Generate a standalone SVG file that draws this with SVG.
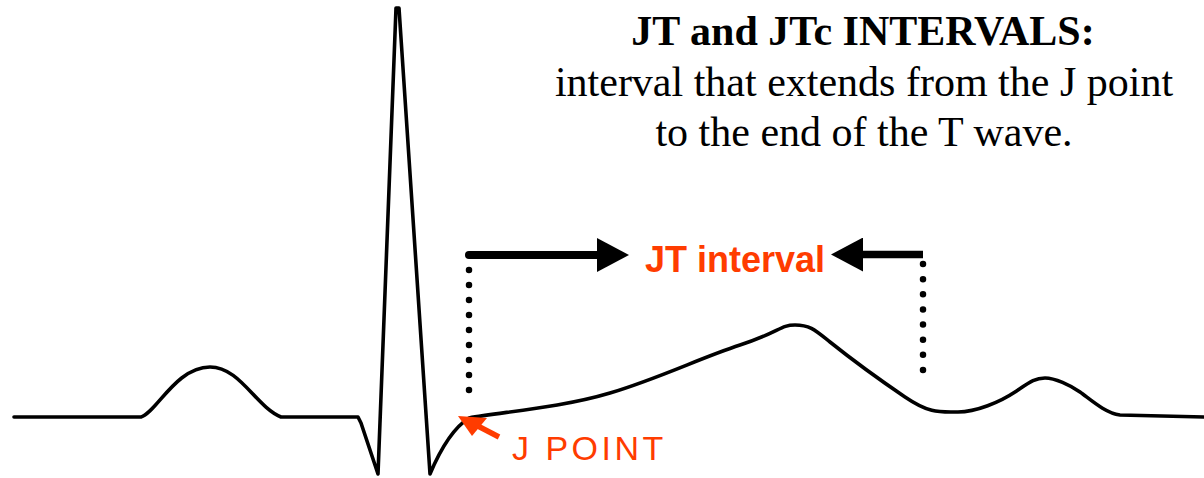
<svg xmlns="http://www.w3.org/2000/svg" width="1204" height="478" viewBox="0 0 1204 478">
<style>
.ecg{fill:none;stroke:#000;stroke-width:3.6;stroke-linejoin:round;stroke-linecap:round}
.dots{fill:none;stroke:#000;stroke-width:6.5;stroke-linecap:round}
.shaft{fill:none;stroke:#000}
.title{font-family:"Liberation Serif","Times New Roman",serif;font-size:42px;fill:#000;text-anchor:middle}
.red{fill:#ff3c00}
</style>
<defs>
<marker id="head" viewBox="0 0 32 34" markerWidth="32" markerHeight="34" refX="0" refY="17" orient="auto" markerUnits="userSpaceOnUse">
<path d="M0,0 L32,17 L0,34 Z" fill="#000"/>
</marker>
</defs>
<rect width="1204" height="478" fill="#fff"/>
<g id="ecg">
<path class="ecg" d="M14,417 L141,417 C156,413 176,367 210,367 C240,367 256,407 281,417 L358,417 L361,423 L378,474 L396,8 L399,8 L430,474 C438,455 450,430 469,418 C500,412 560,408 610,393 S700,358 740,345 S780,325 795,325 S815,330 830,342 S880,380 905,397 S940,412 958,412 S1000,402 1015,392 S1035,378 1045,378 S1070,385 1080,392 S1105,413 1120,415 L1204,417"/>
</g>
<g id="title">
<text class="title" x="863" y="45" font-weight="bold">JT and JTc INTERVALS:</text>
<text class="title" x="864" y="96">interval that extends from the J point</text>
<text class="title" x="864" y="146">to the end of the T wave.</text>
</g>
<g id="jt-label">
<text x="645" y="272" font-family="'Liberation Sans',Arial,sans-serif" font-size="36" font-weight="bold" class="red">JT interval</text>
</g>
<g id="jpoint-label">
<text x="512" y="460" font-family="'Liberation Sans',Arial,sans-serif" font-size="34" letter-spacing="3.5" class="red">J POINT</text>
</g>
<g id="connectors">
<line class="shaft" x1="469" y1="255" x2="597" y2="255" stroke-width="8" stroke-linecap="round" marker-end="url(#head)"/>
<line class="shaft" x1="923" y1="254.5" x2="863" y2="254.5" stroke-width="7.5" marker-end="url(#head)"/>
<line class="dots" x1="469" y1="255" x2="469" y2="405" stroke-dasharray="0 15"/>
<line class="dots" x1="923" y1="264" x2="923" y2="385" stroke-dasharray="0 15.125"/>
<line x1="499" y1="437" x2="474" y2="424" stroke="#ff3c00" stroke-width="5.5"/>
<polygon points="458,416 487,418 472,436" fill="#ff3c00"/>
</g>
</svg>
